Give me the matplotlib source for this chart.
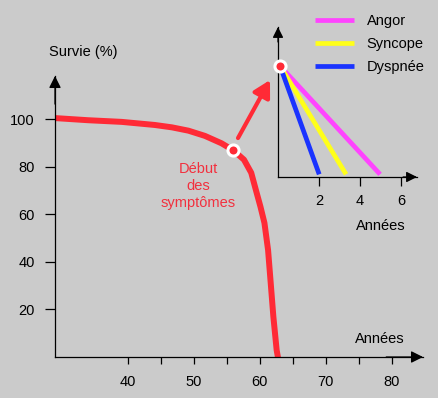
import matplotlib
matplotlib.use('Agg')
import matplotlib.pyplot as plt

plt.rcParams['font.family'] = ['Liberation Sans', 'DejaVu Sans']
plt.rcParams['font.size'] = 10.5

# courbe de survie (âge en années, survie en %)
ages = [29.0, 34.0, 39.1, 44.1, 46.7, 49.2, 51.7, 54.2, 56.0, 57.6, 58.7, 59.4,
        60.1, 60.7, 61.25, 61.65, 62.05, 62.55, 62.8]
survie = [100.5, 99.6, 98.9, 97.6, 96.6, 95.2, 93.0, 89.9, 86.9, 83.0, 77.5, 70.3,
          63.2, 56.4, 45.0, 31.1, 17.0, 2.9, -1.0]
age_debut, survie_debut = 56.0, 86.9

# encart : survie après le début des symptômes
symptomes = ['Angor', 'Syncope', 'Dyspnée']
fin_annees = [4.98, 3.32, 2.01]
couleurs = ['#ff44ff', '#ffff1a', '#1a33ff']
depart = (0.1, 100)
fin_survie = 2.4

xticks_maj = [40, 50, 60, 70, 80]
xticks_min = [45, 55, 65, 75]
yticks = [20, 40, 60, 80, 100]
xticks_encart = [2, 4, 6]

fond = '#cbcbcb'
rouge = '#ff2a36'


def fleches(a, taille=18):
    # petites flèches au bout des axes
    for xy, xytext in [((1, 0), (0.9, 0)), ((0, 1), (0, 0.9))]:
        a.annotate('', xy=xy, xytext=xytext, xycoords='axes fraction',
                   arrowprops=dict(arrowstyle='-|>', color='black', lw=0.9,
                                   mutation_scale=taille, shrinkA=0, shrinkB=0))


fig = plt.figure(figsize=(4.38, 3.98), dpi=100, facecolor=fond)

ax = fig.add_axes([55 / 438, 41 / 398, 368 / 438, 281 / 398])
ax.set_facecolor('none')
ax.set_xlim(29, 84.7)
ax.set_ylim(0, 118.2)
ax.plot(ages, survie, color=rouge, lw=4.3, solid_capstyle='butt', solid_joinstyle='round')
ax.plot([age_debut], [survie_debut], 'o', ms=8, mfc=rouge, mec='white', mew=2.2, zorder=5)

for s in ['top', 'right']:
    ax.spines[s].set_visible(False)
for s in ['left', 'bottom']:
    ax.spines[s].set_linewidth(0.9)
ax.set_xticks(xticks_maj)
ax.set_xticks(xticks_min, minor=True)
ax.set_yticks(yticks)
ax.tick_params(axis='x', which='both', length=5, width=0.9, pad=8)
ax.tick_params(axis='y', length=7.5, width=0.9, pad=7)
fleches(ax)

ax.annotate('', xy=(61.54, 116.5), xytext=(56.7, 92.1), annotation_clip=False,
            arrowprops=dict(arrowstyle='-|>,head_length=0.45,head_width=0.25', color=rouge,
                            lw=3, mutation_scale=22, shrinkA=0, shrinkB=0))

ax.text(50.64, 72.0, 'Début\ndes\nsymptômes', color='#f2303e', ha='center', va='center',
        linespacing=1.3)
ax.text(28.1, 128.3, 'Survie (%)', ha='left', va='center', clip_on=False)
ax.text(78.2, 7.5, 'Années', ha='center', va='center')

# encart
ax2 = fig.add_axes([278 / 438, 221 / 398, 139 / 438, 150 / 398])
ax2.set_facecolor('none')
ax2.set_xlim(0, 6.78)
ax2.set_ylim(0, 135.1)
for nom, fin, c in zip(symptomes, fin_annees, couleurs):
    ax2.plot([depart[0], fin], [depart[1], fin_survie], color=c, lw=3.4,
             solid_capstyle='butt', label=nom)
ax2.plot([depart[0]], [depart[1]], 'o', ms=8, mfc=rouge, mec='white', mew=2.2,
         zorder=5, clip_on=False)
for s in ['top', 'right']:
    ax2.spines[s].set_visible(False)
for s in ['left', 'bottom']:
    ax2.spines[s].set_linewidth(0.9)
ax2.set_xticks(xticks_encart)
ax2.set_yticks([])
ax2.tick_params(axis='x', length=6.5, width=0.9, pad=6)
fleches(ax2, 16)
ax2.text(5.02, -44.5, 'Années', ha='center', va='center', clip_on=False)

ax2.legend(loc='upper left', bbox_to_anchor=(315 / 438, 1 - 14 / 398),
           bbox_transform=fig.transFigure, frameon=False, borderpad=0,
           borderaxespad=0, handlelength=2.7, handletextpad=0.85, labelspacing=0.62)

fig.savefig('out.png', dpi=100, facecolor=fig.get_facecolor())
